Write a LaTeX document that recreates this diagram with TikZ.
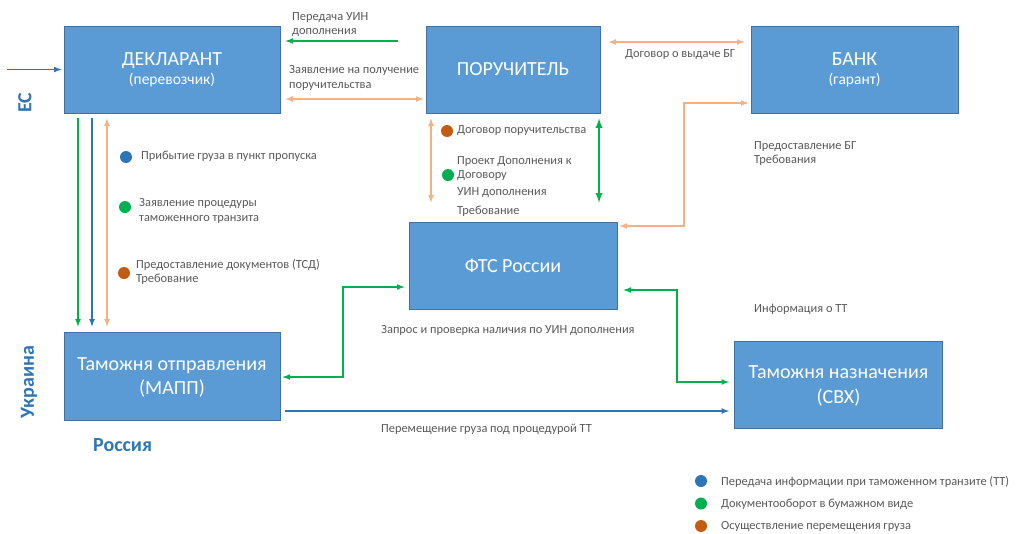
\documentclass[tikz,border=0pt]{standalone}
\usepackage{fontspec}
\setmainfont{Carlito}
\usetikzlibrary{arrows}
\usetikzlibrary{calc}
\usetikzlibrary{positioning}

\definecolor{boxblue}{HTML}{5B9BD5}
\definecolor{boxline}{HTML}{41719C}
\definecolor{flowblue}{HTML}{2E75B6}
\definecolor{flowgreen}{HTML}{00B050}
\definecolor{floworange}{HTML}{F4B183}
\definecolor{dotorange}{HTML}{C55A11}
\definecolor{txtgray}{HTML}{595959}

\begin{document}
\begin{tikzpicture}[
  x=1pt, y=-1pt,
  > = latex,
  box/.style = {draw=boxline, fill=boxblue, line width=0.8pt, text=white, align=center, inner sep=0pt, font=\fontsize{20}{24}\selectfont},
  lbl/.style = {text=txtgray, align=left, anchor=west, inner sep=0pt, font=\fontsize{12.4}{14.5}\selectfont},
  dot/.style = {circle, inner sep=0pt, minimum size=12pt},
  region/.style = {text=flowblue, inner sep=0pt, font=\fontsize{20}{22}\selectfont\bfseries},
  bluearr/.style = {draw=flowblue, line width=1.6pt},
  greenarr/.style = {draw=flowgreen, line width=1.6pt},
  orangearr/.style = {draw=floworange, line width=1.6pt}
  ]
	\useasboundingbox (0,0) rectangle (1019,533);

	\node[box, minimum width=216pt, minimum height=87pt] (dekl) at (172,69.5) {ДЕКЛАРАНТ\\[-5pt]{\fontsize{15.5}{19}\selectfont(перевозчик)}};
	\node[box, minimum width=174pt, minimum height=87pt] (poruch) at (513,69.5) {ПОРУЧИТЕЛЬ};
	\node[box, minimum width=207pt, minimum height=87pt] (bank) at (854.5,69.5) {БАНК\\[-5pt]{\fontsize{15.5}{19}\selectfont(гарант)}};
	\node[box, minimum width=208pt, minimum height=87pt] (fts) at (513,265.5) {ФТС России};
	\node[box, minimum width=216pt, minimum height=88pt, text depth=-2pt] (otpr) at (172,376) {Таможня отправления\\(МАПП)};
	\node[box, minimum width=208pt, minimum height=87pt, text depth=-2pt] (nazn) at (838.5,384.5) {Таможня назначения\\[1pt](СВХ)};

	\node[region, rotate=90] (es) at (25,103) {ЕС};
	\node[region, rotate=90] (ukr) at (29,382) {Украина};
	\node[region] (rus) at (122.5,445) {Россия};

	\coordinate (@es) at (7,69.5);
	\coordinate (@uin) at (398,41);

	\draw[bluearr,->,shorten >=2pt] (@es) -- (dekl.west);
	\draw[greenarr,->,shorten >=5pt] (@uin) -- (dekl.east |- @uin);
	\draw[orangearr,<->,shorten <=5pt,shorten >=2pt] (dekl.east |- 0,99) -- (poruch.west |- 0,99);
	\draw[orangearr,<->,shorten <=8pt,shorten >=6pt] (poruch.east |- 0,42) -- (bank.west |- 0,42);
	\draw[orangearr,<->,shorten <=2pt,shorten >=2pt] (fts.east |- 0,226) -| (684,103) -- (bank.west |- 0,103);

	\draw[orangearr,<->,shorten <=5pt,shorten >=19pt] ([xshift=-82pt]poruch.south) -- ([xshift=-82pt]fts.north);
	\draw[greenarr,<->,line width=2.2pt,shorten <=5pt,shorten >=19pt] ([xshift=86pt]poruch.south) -- ([xshift=86pt]fts.north);

	\draw[greenarr,->,shorten <=5pt,shorten >=5pt] ([xshift=-94pt]dekl.south) -- ([xshift=-94pt]otpr.north);
	\draw[bluearr,->,shorten <=5pt,shorten >=5pt] ([xshift=-80pt]dekl.south) -- ([xshift=-80pt]otpr.north);
	\draw[orangearr,<->,shorten <=5pt,shorten >=5pt] ([xshift=-65pt]dekl.south) -- ([xshift=-65pt]otpr.north);

	\draw[greenarr,<->,shorten <=2pt,shorten >=4pt] (otpr.east |- 0,377) -| (343,287) -- (fts.west |- 0,287);
	\draw[greenarr,<->,shorten <=6pt,shorten >=5pt] (fts.east |- 0,290) -| (677,382) -- (nazn.west |- 0,382);
	\draw[bluearr,->,shorten <=5pt,shorten >=5pt] (otpr.east |- 0,411) -- (nazn.west |- 0,411);

	\node[lbl] (l_uin) at (292,24.5) {Передача УИН\\дополнения};
	\node[lbl] (l_zayav) at (289,78) {Заявление на получение\\поручительства};
	\node[lbl] (l_dogbg) at (625,55) {Договор о выдаче БГ};
	\node[lbl] (l_predbg) at (754,153.5) {Предоставление БГ\\Требования};

	\node[dot, fill=dotorange] (d_dogpor) at (447,131) {};
	\node[lbl] (l_dogpor) at (457,131) {Договор поручительства};
	\node[dot, fill=flowgreen] (d_proekt) at (448,175) {};
	\node[lbl] (l_proekt) at (457,168.5) {Проект Дополнения к\\Договору};
	\node[lbl] (l_uindop) at (457,193) {УИН дополнения};
	\node[lbl] (l_treb) at (457,211) {Требование};

	\node[dot, fill=flowblue] (d_pribyt) at (126,157) {};
	\node[lbl] (l_pribyt) at (141,156) {Прибытие груза в пункт пропуска};
	\node[dot, fill=flowgreen] (d_proc) at (125,207) {};
	\node[lbl] (l_proc) at (139,211) {Заявление процедуры\\таможенного транзита};
	\node[dot, fill=dotorange] (d_tsd) at (124,273) {};
	\node[lbl] (l_tsd) at (136,272) {Предоставление документов (ТСД)\\Требование};

	\node[lbl] (l_info) at (754,309) {Информация о ТТ};
	\node[lbl] (l_zapros) at (381,330) {Запрос и проверка наличия по УИН дополнения};
	\node[lbl] (l_perem) at (381,429) {Перемещение груза под процедурой ТТ};

	\node[dot, fill=flowblue] (g_blue) at (701,481) {};
	\node[dot, fill=flowgreen] (g_green) at (701,503.5) {};
	\node[dot, fill=dotorange] (g_orange) at (701,526) {};
	\node[lbl] at (721,482) {Передача информации при таможенном транзите (ТТ)};
	\node[lbl] at (721,504) {Документооборот в бумажном виде};
	\node[lbl] at (721,526) {Осуществление перемещения груза};

\end{tikzpicture}
\end{document}
